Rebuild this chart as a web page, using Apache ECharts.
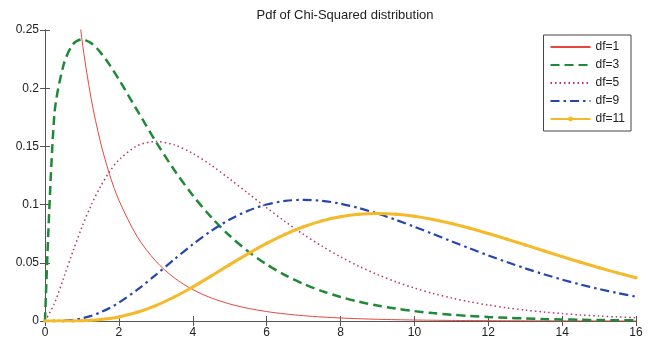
<!DOCTYPE html>
<html>
<head>
<meta charset="utf-8">
<script src="https://cdn.jsdelivr.net/npm/echarts@6/dist/echarts.min.js"></script>
<style>html,body{margin:0;padding:0;background:#fff}#c{width:654px;height:340px}</style>
</head>
<body>
<div id="c"></div>
<script>
const chartTitle = 'Pdf of Chi-Squared distribution';
const seriesNames = ['df=1', 'df=3', 'df=5', 'df=9', 'df=11'];
const xValues = [0, 0.25, 0.5, 0.75, 1, 1.25, 1.5, 1.75, 2, 2.5, 3, 3.5, 4, 4.5, 5, 5.5, 6, 6.5, 7, 7.5, 8, 8.5, 9, 9.5, 10, 10.5, 11, 11.5, 12, 12.5, 13, 13.5, 14, 14.5, 15, 15.5, 16];
const df1 = [null, 0.70413, 0.43939, 0.31661, 0.24197, 0.19100, 0.15387, 0.12571, 0.10378, 0.07229, 0.05139, 0.03706, 0.02700, 0.01982, 0.01465, 0.01087, 0.00811, 0.00607, 0.00455, 0.00343, 0.00258, 0.00195, 0.00148, 0.00112, 0.00085, 0.00065, 0.00049, 0.00037, 0.00029, 0.00022, 0.00017, 0.00013, 0.00010, 0.00007, 0.00006, 0.00004, 0.00003];
const df3 = [0, 0.17603, 0.21970, 0.23745, 0.24197, 0.23874, 0.23080, 0.22000, 0.20755, 0.18072, 0.15418, 0.12970, 0.10798, 0.08920, 0.07322, 0.05981, 0.04865, 0.03944, 0.03187, 0.02569, 0.02067, 0.01659, 0.01330, 0.01064, 0.00850, 0.00678, 0.00541, 0.00431, 0.00343, 0.00272, 0.00216, 0.00172, 0.00136, 0.00108, 0.00085, 0.00068, 0.00053];
const df5 = [0, 0.01467, 0.03662, 0.05936, 0.08066, 0.09948, 0.11540, 0.12833, 0.13837, 0.15060, 0.15418, 0.15131, 0.14398, 0.13380, 0.12204, 0.10965, 0.09730, 0.08545, 0.07437, 0.06424, 0.05511, 0.04701, 0.03989, 0.03369, 0.02833, 0.02374, 0.01983, 0.01651, 0.01370, 0.01134, 0.00937, 0.00772, 0.00635, 0.00521, 0.00427, 0.00350, 0.00285];
const df9 = [0, 0.00003, 0.00026, 0.00095, 0.00230, 0.00444, 0.00742, 0.01123, 0.01581, 0.02689, 0.03965, 0.05296, 0.06582, 0.07741, 0.08717, 0.09477, 0.10009, 0.10315, 0.10412, 0.10324, 0.10078, 0.09704, 0.09231, 0.08687, 0.08096, 0.07480, 0.06855, 0.06237, 0.05638, 0.05065, 0.04525, 0.04022, 0.03557, 0.03132, 0.02747, 0.02399, 0.02088];
const df11 = [0, 0.00000, 0.00002, 0.00008, 0.00026, 0.00062, 0.00124, 0.00218, 0.00351, 0.00747, 0.01322, 0.02060, 0.02925, 0.03871, 0.04843, 0.05792, 0.06673, 0.07450, 0.08098, 0.08603, 0.08958, 0.09165, 0.09231, 0.09170, 0.08996, 0.08727, 0.08378, 0.07970, 0.07517, 0.07035, 0.06536, 0.06033, 0.05533, 0.05046, 0.04578, 0.04132, 0.03712];
const xMin = 0, xMax = 16, xStep = 2;
const yMin = 0, yMax = 0.25, yStep = 0.05;

const pairs = ys => xValues.map((x, i) => [x, ys[i]]);
const font = 'Liberation Sans, Arial, Helvetica, sans-serif';
const axisLine = { show: true, lineStyle: { color: '#555', width: 1 } };
const tick = { show: true, inside: true, length: 5, lineStyle: { color: '#555' } };
const noMarker = { opacity: 0 };

const chart = echarts.init(document.getElementById('c'), null, { renderer: 'canvas' });
chart.setOption({
  backgroundColor: '#fff',
  animation: false,
  textStyle: { fontFamily: font },
  title: {
    text: chartTitle, left: 340, top: 4, textAlign: 'center',
    textStyle: { fontSize: 13, fontWeight: 'normal', color: '#222', fontFamily: font }
  },
  grid: { left: 45, right: 18, top: 30, bottom: 19 },
  legend: {
    orient: 'vertical', right: 23, top: 35,
    data: [
      { name: seriesNames[0], itemStyle: noMarker },
      { name: seriesNames[1], itemStyle: noMarker },
      { name: seriesNames[2], itemStyle: noMarker },
      { name: seriesNames[3], itemStyle: noMarker },
      { name: seriesNames[4] }
    ],
    backgroundColor: '#fff', borderColor: '#444', borderWidth: 1,
    padding: [6, 6, 6, 6], itemWidth: 40, itemHeight: 6, itemGap: 6,
    textStyle: { fontSize: 12, color: '#222', fontFamily: font }
  },
  xAxis: [
    { type: 'value', min: xMin, max: xMax, interval: xStep, axisLine: axisLine, axisTick: tick,
      splitLine: { show: false },
      axisLabel: { fontSize: 12, color: '#222', margin: 6, fontFamily: font } },
    { type: 'value', position: 'top', min: xMin, max: xMax, interval: xStep, axisLine: axisLine, axisTick: tick,
      splitLine: { show: false }, axisLabel: { show: false } }
  ],
  yAxis: [
    { type: 'value', min: yMin, max: yMax, interval: yStep, axisLine: axisLine, axisTick: tick,
      splitLine: { show: false },
      axisLabel: { fontSize: 12, color: '#222', margin: 6, fontFamily: font } },
    { type: 'value', position: 'right', min: yMin, max: yMax, interval: yStep, axisLine: axisLine, axisTick: tick,
      splitLine: { show: false }, axisLabel: { show: false } }
  ],
  series: [
    { name: seriesNames[0], type: 'line', data: pairs(df1), smooth: 0.3, symbol: 'none', clip: true,
      itemStyle: { color: '#e8473d' }, lineStyle: { color: '#e8473d', width: 1 } },
    { name: seriesNames[1], type: 'line', data: pairs(df3), smooth: 0.3, symbol: 'none', clip: true,
      itemStyle: { color: '#1f8a36' }, lineStyle: { color: '#1f8a36', width: 2.5, type: [9, 5] } },
    { name: seriesNames[2], type: 'line', data: pairs(df5), smooth: 0.3, symbol: 'none', clip: true,
      itemStyle: { color: '#b83567' }, lineStyle: { color: '#b83567', width: 1.5, type: [1.5, 3] } },
    { name: seriesNames[3], type: 'line', data: pairs(df9), smooth: 0.3, symbol: 'none', clip: true,
      itemStyle: { color: '#2446b3' }, lineStyle: { color: '#2446b3', width: 2.2, type: [9, 4, 2.5, 4] } },
    { name: seriesNames[4], type: 'line', data: pairs(df11), smooth: 0.3, symbol: 'circle', symbolSize: 3.5,
      showSymbol: true, showAllSymbol: true, clip: true,
      itemStyle: { color: '#f5b92a' }, lineStyle: { color: '#f5b92a', width: 3 } }
  ]
});
</script>
</body>
</html>
